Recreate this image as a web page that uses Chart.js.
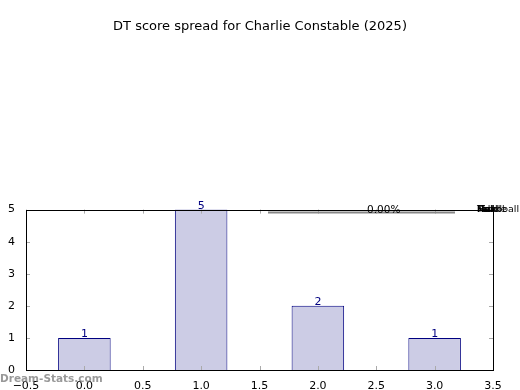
<!DOCTYPE html>
<html>
<head>
<meta charset="utf-8">
<script src="https://cdn.jsdelivr.net/npm/chart.js@4.4.0/dist/chart.umd.min.js"></script>
<style>
  html, body { margin: 0; padding: 0; background: #fff; }
  #wrap { width: 520px; height: 390px; }
</style>
</head>
<body>
<div id="wrap"><canvas id="chart-bar" width="520" height="390"></canvas></div>
<script>
const chartTitle = "DT score spread for Charlie Constable (2025)";
const scores = [0, 1, 2, 3];
const counts = [1, 5, 2, 1];
const xTicks = [-0.5, 0.0, 0.5, 1.0, 1.5, 2.0, 2.5, 3.0, 3.5];
const yTicks = [0, 1, 2, 3, 4, 5];
// leftover labels of the flattened pie drawn over the plot
const pieLabels = ["Fell", "Hold", "Mark", "Tackle", "Kick", "Handball"];
const piePct = "0.00%";
const watermark = "Dream-Stats.com";

const FONT = "DejaVu Sans";

const extras = {
  id: "extras",
  afterDatasetsDraw(chart) {
    const ctx = chart.ctx;
    const a = chart.chartArea;
    const xs = chart.scales.x;
    const ys = chart.scales.y;
    ctx.save();

    // inner tick marks (grey), matplotlib style
    ctx.strokeStyle = "#aaaaaa";
    ctx.lineWidth = 1;
    xTicks.forEach((v) => {
      const px = Math.round(xs.getPixelForValue(v)) + 0.5;
      ctx.beginPath();
      ctx.moveTo(px, a.bottom);
      ctx.lineTo(px, a.bottom - 4);
      ctx.moveTo(px, a.top);
      ctx.lineTo(px, a.top + 4);
      ctx.stroke();
    });
    yTicks.forEach((v) => {
      const py = Math.round(ys.getPixelForValue(v)) + 0.5;
      ctx.beginPath();
      ctx.moveTo(a.left, py);
      ctx.lineTo(a.left + 4, py);
      ctx.moveTo(a.right, py);
      ctx.lineTo(a.right - 4, py);
      ctx.stroke();
    });

    // frame
    ctx.strokeStyle = "#000";
    ctx.strokeRect(Math.round(a.left) + 0.5, Math.round(a.top) + 0.5,
      Math.round(a.right - a.left), Math.round(a.bottom - a.top));

    // value labels over bars
    ctx.fillStyle = "#000080";
    ctx.font = "11px '" + FONT + "'";
    ctx.textAlign = "center";
    ctx.textBaseline = "bottom";
    chart.getDatasetMeta(0).data.forEach((bar, i) => {
      ctx.fillText(String(counts[i]), bar.x, bar.y + 2);
    });

    // flattened pie remnants
    ctx.strokeStyle = "#888888";
    ctx.lineWidth = 2;
    ctx.beginPath();
    ctx.moveTo(268, 212.5);
    ctx.lineTo(455, 212.5);
    ctx.stroke();
    ctx.strokeStyle = "#000";
    ctx.lineWidth = 1;
    ctx.beginPath();
    ctx.moveTo(262, 210.5);
    ctx.lineTo(476, 210.5);
    ctx.stroke();
    ctx.fillStyle = "#000";
    ctx.font = "10.5px '" + FONT + "'";
    ctx.textAlign = "left";
    ctx.textBaseline = "middle";
    ctx.fillText(piePct, 367, 210);
    ctx.font = "9.5px '" + FONT + "'";
    pieLabels.forEach((t) => ctx.fillText(t, 477, 210));

    // watermark
    ctx.fillStyle = "rgba(110,110,110,0.7)";
    ctx.font = "bold 10.5px '" + FONT + "'";
    ctx.textBaseline = "middle";
    ctx.fillText(watermark, 0, 379);
    ctx.restore();
  },
};

new Chart(document.getElementById("chart-bar"), {
  type: "bar",
  data: {
    datasets: [
      {
        data: scores.map((s, i) => ({ x: s, y: counts[i] })),
        backgroundColor: "#ccccE5",
        borderColor: "#000080",
        borderWidth: 1,
        categoryPercentage: 1,
        barPercentage: 0.9,
      },
    ],
  },
  options: {
    responsive: false,
    animation: false,
    layout: { padding: 0 },
    plugins: {
      legend: { display: false },
      tooltip: { enabled: false },
      title: {
        display: true,
        text: chartTitle,
        color: "#000",
        font: { family: FONT, size: 13, weight: "normal" },
        padding: { top: 19, bottom: 175 },
      },
    },
    scales: {
      x: {
        type: "linear",
        min: -0.5,
        max: 3.5,
        offset: false,
        grid: { display: false },
        border: { display: false },
        afterBuildTicks: (axis) => {
          axis.ticks = xTicks.map((v) => ({ value: v }));
        },
        afterFit: (axis) => { axis.height = 20; },
        ticks: {
          color: "#000",
          padding: 2,
          font: { family: FONT, size: 11 },
          callback: (v) => Number(v).toFixed(1).replace("-", "\u2212"),
        },
      },
      y: {
        min: 0,
        max: 5,
        grid: { display: false },
        border: { display: false },
        afterBuildTicks: (axis) => {
          axis.ticks = yTicks.map((v) => ({ value: v }));
        },
        afterFit: (axis) => { axis.width = 26; },
        ticks: {
          color: "#000",
          padding: 3,
          font: { family: FONT, size: 11 },
        },
      },
      yRight: {
        position: "right",
        min: 0,
        max: 5,
        grid: { display: false },
        border: { display: false },
        ticks: { display: false },
        afterFit: (axis) => { axis.width = 27; },
      },
    },
  },
  plugins: [extras],
});
</script>
</body>
</html>
